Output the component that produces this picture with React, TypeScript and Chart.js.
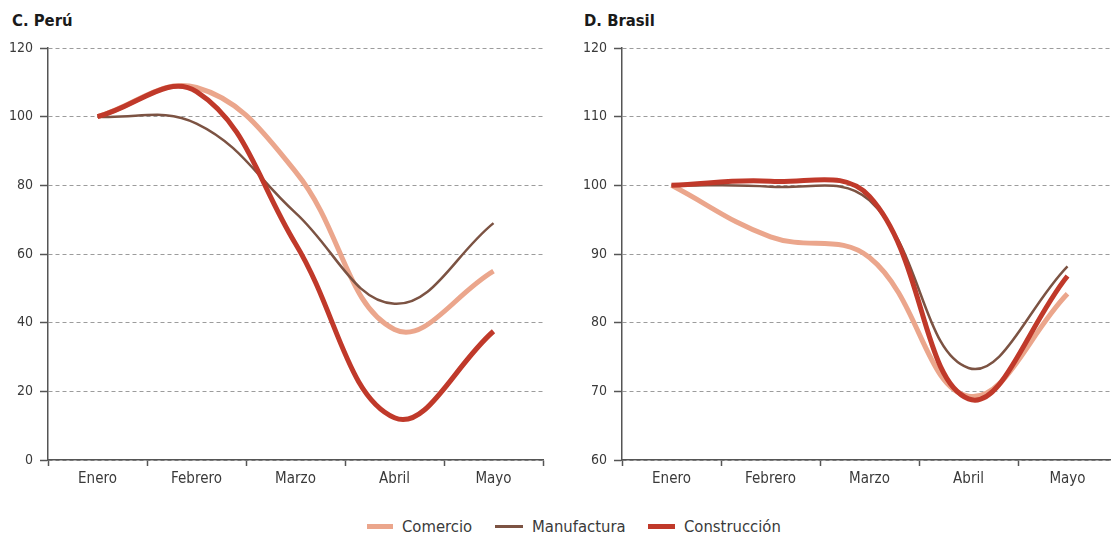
import React, { useEffect, useRef } from "react";
import { Chart, registerables } from "chart.js";

Chart.register(...registerables);

// ---- data ----
const months = ["Enero", "Febrero", "Marzo", "Abril", "Mayo"];
const seriesNames = ["Comercio", "Manufactura", "Construcción"];

const peruComercio = [100, 108.5, 84, 38, 55];
const peruManufactura = [100, 98, 72, 45.5, 69];
const peruConstruccion = [100, 107.3, 63, 12.3, 37.5];

const brasilComercio = [100, 92.5, 89.5, 69.3, 84.2];
const brasilManufactura = [100, 99.8, 97.8, 73.4, 88.2];
const brasilConstruccion = [100, 100.6, 98.4, 68.9, 86.8];

const peruTicks = [0, 20, 40, 60, 80, 100, 120];
const brasilTicks = [60, 70, 80, 90, 100, 110, 120];

// ---- styles ----
const colors = ["#EBA68C", "#7C5343", "#C0392A"];
const widths = [5, 2.5, 5];
const FONT = "'Liberation Sans Narrow', 'DejaVu Sans Condensed', 'Roboto', sans-serif";
const AXIS = "#555555";
const LABEL = "#3a3a3a";

function makeConfig(series: number[][], ticks: number[], yWidth: number, padRight: number): any {
  return {
    type: "line",
    data: {
      labels: months,
      datasets: series.map((d, i) => ({
        label: seriesNames[i],
        data: d,
        borderColor: colors[i],
        backgroundColor: colors[i],
        borderWidth: widths[i],
        pointRadius: 0,
        tension: 0.4,
        fill: false,
        order: 3 - i,
      })),
    },
    options: {
      animation: false,
      responsive: false,
      maintainAspectRatio: false,
      layout: { padding: { top: 48, right: padRight, bottom: 0, left: 0 } },
      plugins: { legend: { display: false }, tooltip: { enabled: false }, title: { display: false } },
      scales: {
        x: {
          type: "category",
          offset: true,
          grid: {
            display: true,
            offset: true,
            drawOnChartArea: false,
            drawTicks: true,
            tickLength: 6,
            color: AXIS,
            tickColor: AXIS,
            tickWidth: 1.5,
          },
          border: { display: true, color: AXIS, width: 1.5 },
          ticks: { color: LABEL, font: { family: FONT, size: 15 }, padding: 4, maxRotation: 0, autoSkip: false },
          afterFit: (s: any) => {
            s.height = 40;
          },
        },
        y: {
          min: ticks[0],
          max: ticks[ticks.length - 1],
          afterBuildTicks: (s: any) => {
            s.ticks = ticks.map((v) => ({ value: v }));
          },
          grid: {
            display: true,
            color: "#9c9c9c",
            lineWidth: 1,
            drawTicks: true,
            tickLength: 8,
            tickColor: AXIS,
            tickWidth: 1.5,
            tickBorderDash: [],
          },
          border: { display: true, color: AXIS, width: 1.5, dash: [4, 3] },
          ticks: { color: LABEL, font: { family: FONT, size: 14 }, padding: 7 },
          afterFit: (s: any) => {
            s.width = yWidth;
          },
        },
      },
    },
  };
}

function Panel(props: { series: number[][]; ticks: number[]; left: number; width: number; yWidth: number; padRight: number }) {
  const ref = useRef<HTMLCanvasElement | null>(null);
  useEffect(() => {
    if (!ref.current) return;
    const chart = new Chart(ref.current, makeConfig(props.series, props.ticks, props.yWidth, props.padRight));
    return () => chart.destroy();
  }, []);
  return (
    <canvas
      ref={ref}
      width={props.width}
      height={500}
      style={{ position: "absolute", left: props.left, top: 0, width: props.width, height: 500 }}
    />
  );
}

const titleStyle: React.CSSProperties = {
  position: "absolute",
  top: 13,
  fontFamily: FONT,
  fontWeight: "bold",
  fontSize: 16.5,
  lineHeight: "16.5px",
  color: "#1a1a1a",
  whiteSpace: "nowrap",
};

function LegendItem(props: { left: number; color: string; lw: number; swatch: number; text: string }) {
  return (
    <div
      style={{
        position: "absolute",
        left: props.left,
        top: 517,
        height: 19,
        display: "flex",
        alignItems: "center",
        whiteSpace: "nowrap",
      }}
    >
      <div style={{ width: props.swatch, height: props.lw, background: props.color, marginRight: 9 }} />
      <span style={{ fontFamily: FONT, fontSize: 16.5, lineHeight: "19px", color: LABEL }}>{props.text}</span>
    </div>
  );
}

export default function App() {
  return (
    <div
      style={{
        position: "fixed",
        left: 0,
        top: 0,
        width: 1111,
        height: 535,
        overflow: "hidden",
        background: "#ffffff",
      }}
    >
      <div style={{ ...titleStyle, left: 12 }}>C. Perú</div>
      <div style={{ ...titleStyle, left: 584 }}>D. Brasil</div>
      <Panel
        series={[peruComercio, peruManufactura, peruConstruccion]}
        ticks={peruTicks}
        left={0}
        width={560}
        yWidth={48}
        padRight={17}
      />
      <Panel
        series={[brasilComercio, brasilManufactura, brasilConstruccion]}
        ticks={brasilTicks}
        left={560}
        width={570}
        yWidth={62}
        padRight={13}
      />
      <LegendItem left={367} color={colors[0]} lw={5} swatch={26} text={seriesNames[0]} />
      <LegendItem left={495} color={colors[1]} lw={3} swatch={28} text={seriesNames[1]} />
      <LegendItem left={648} color={colors[2]} lw={5} swatch={27} text={seriesNames[2]} />
    </div>
  );
}
